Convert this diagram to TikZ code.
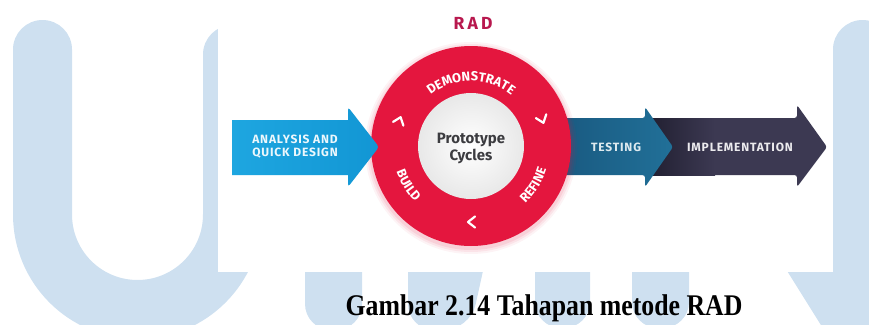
\documentclass[tikz,border=0pt]{standalone}
\usepackage{fontspec}
\setsansfont{Fira Sans}
\newfontfamily\arrowfont[LetterSpace=7]{Fira Sans}
\newfontfamily\radfont[LetterSpace=18]{Fira Sans}
\newfontfamily\capfont[FakeStretch=0.86]{Liberation Serif}
\usetikzlibrary{decorations.text}
\definecolor{wm}{RGB}{206,224,240}
\definecolor{ringred}{RGB}{228,22,62}
\definecolor{radcol}{RGB}{184,24,78}
\definecolor{blueR}{RGB}{18,150,212}
\definecolor{blueL}{RGB}{30,166,224}
\definecolor{tealL}{RGB}{24,86,125}
\definecolor{tealR}{RGB}{33,112,152}
\definecolor{navyL}{RGB}{34,32,50}
\definecolor{navyR}{RGB}{60,57,82}
\definecolor{prototext}{RGB}{60,60,64}
\begin{document}
\begin{tikzpicture}[x=1pt,y=1pt,
  wmstroke/.style={draw=wm, line width=59pt, line cap=round},
  wmbar/.style={fill=wm, rounded corners=26pt},
  arrowtext/.style={font=\arrowfont\bfseries\fontsize{12}{13}\selectfont, align=center, inner sep=0pt},
  chev/.style={draw=white, line width=2.2pt, line cap=round, line join=round},
  ringtext/.style={decorate, decoration={text along path, text align=center, text color=white,
     text={|\sffamily\bfseries\fontsize{13}{14}\selectfont|#1}}}
]
\useasboundingbox (0,0) rectangle (869,-324);
% ---- watermark
\draw[wmstroke] (42.5,-49.5) -- (42.5,-214.5) arc[start angle=180,end angle=360,radius=95] -- (232.5,-54.5);
\draw[wmstroke] (862.5,-49.5) -- (862.5,-400);
\fill[wm] (774,-250) -- (840,-250) -- (840,-330) -- (824,-330) -- cycle;
\path[wmbar] (305,-230) -- (305,-330) -- (362,-330) -- (362,-230) -- cycle;
\path[wmbar] (408,-230) -- (408,-330) -- (470,-330) -- (492,-230) -- cycle;
\path[wmbar] (535,-230) -- (535,-328) -- (590,-328) -- (590,-230) -- cycle;
\path[wmbar] (632,-230) -- (632,-328) -- (689,-328) -- (689,-230) -- cycle;
% ---- white panel
\fill[white] (218,0) rectangle (833,-272);
% ---- title
\node[font=\radfont\bfseries\fontsize{17.5}{19}\selectfont, text=radcol] (rad) at (473,-23) {RAD};
% ---- implementation arrow
\fill[navyR, rounded corners=2.5pt] (640,-118) -- (797,-118) -- (797,-105) -- (827,-147) -- (797,-187) -- (797,-175) -- (640,-175) -- cycle;
\shade[left color=navyL, right color=navyR] (650,-118) rectangle (715,-175);
\node[arrowtext, text=white!90!navyR] (impl) at (740,-147) {IMPLEMENTATION};
% ---- testing arrow
\shade[left color=tealL, right color=tealR, rounded corners=2.5pt] (540,-118) -- (645,-118) -- (645,-107) -- (673,-147) -- (645,-187) -- (645,-175) -- (540,-175) -- cycle;
\node[arrowtext, text=white!85!tealR] (test) at (616,-147) {TESTING};
% ---- ring
\coordinate (c) at (471,-146);
\foreach \r/\o in {106/0.05,104/0.07,102/0.09}{\fill[ringred, opacity=\o] ([yshift=-2pt]c) circle[radius=\r];}
\fill[ringred] (c) circle[radius=100];
\shade[inner color=white, outer color=black!9] (c) circle[radius=53];
\node[font=\sffamily\bfseries\fontsize{15}{17}\selectfont, text=prototext, align=center] (proto) at (471,-148) {Prototype\\Cycles};
\begin{scope}[shift={(c)}]
  \path[ringtext=DEMONSTRATE] (145:65) arc[start angle=145,end angle=35,radius=65];
  \path[ringtext=BUILD] (180:79) arc[start angle=180,end angle=244,radius=79];
  \path[ringtext=REFINE] (296:79) arc[start angle=296,end angle=360,radius=79];
  \foreach \a in {160,20,270}{
    \draw[chev, shift={(\a:76)}, rotate=\a-90] (-4,5.5) -- (3,0) -- (-4,-5.5);
  }
\end{scope}
% ---- analysis arrow
\shade[left color=blueL, right color=blueR] (232,-120) -- (348,-120) [rounded corners=3pt] -- (348,-107) -- (379,-147) -- (348,-187) [sharp corners] -- (348,-175) -- (232,-175) -- cycle;
\node[arrowtext, text=white!92!blueR] (ana) at (295,-147) {ANALYSIS AND\\QUICK DESIGN};
% ---- caption
\node[font=\capfont\bfseries\fontsize{30}{34}\selectfont, anchor=base, inner sep=0pt] (cap) at (544,-315) {Gambar 2.14 Tahapan metode RAD};
\end{tikzpicture}
\end{document}
